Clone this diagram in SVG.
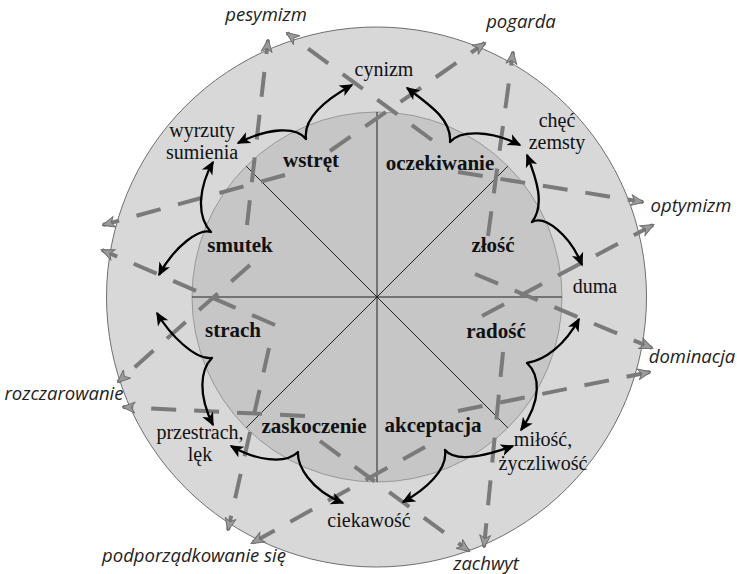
<svg xmlns="http://www.w3.org/2000/svg" width="737" height="574" viewBox="0 0 737 574">
<style>
.emo{font-family:"Liberation Serif",serif;font-weight:bold;font-size:21px;fill:#111;text-anchor:middle}
.dy{font-family:"Liberation Serif",serif;font-size:20px;fill:#111;text-anchor:middle}
.sec{font-family:"Open Sans",sans-serif;font-style:italic;font-size:18.5px;fill:#222;text-anchor:middle}
.div{stroke:#222;stroke-width:1;fill:none}
.dash{stroke:#7a7a7a;stroke-width:4;stroke-dasharray:25 18;fill:none;marker-end:url(#ga)}
.blk{stroke:#000;stroke-width:2.3;fill:none;stroke-linejoin:round;marker-start:url(#ba);marker-end:url(#ba)}
</style>
<defs>
<marker id="ga" markerUnits="userSpaceOnUse" viewBox="-14 -7 16 14" refX="0" refY="0" markerWidth="16" markerHeight="14" orient="auto">
<path d="M1,0 L-12,-5.5 L-8.5,0 L-12,5.5 z" fill="#9a9a9a" stroke="#6a6a6a" stroke-width="0.9"/>
</marker>
<marker id="ba" markerUnits="userSpaceOnUse" viewBox="-15 -8 17 16" refX="0" refY="0" markerWidth="17" markerHeight="16" orient="auto-start-reverse">
<path d="M1.5,0 L-12,-6 L-8.5,0 L-12,6 z" fill="#000"/>
</marker>
</defs>
<g id="wheel">
<circle cx="376.5" cy="297" r="270" fill="#d8d8d8" stroke="#6f6f6f" stroke-width="1"/>
<circle cx="377" cy="297" r="185" fill="#c6c6c6" stroke="#8a8a8a" stroke-width="0.8"/>
<line class="div" x1="377" y1="112" x2="377" y2="482"/>
<line class="div" x1="192" y1="297" x2="562" y2="297"/>
<line class="div" x1="246.2" y1="166.2" x2="507.8" y2="427.8"/>
<line class="div" x1="507.8" y1="166.2" x2="246.2" y2="427.8"/>
</g>
<g id="connectors">
<path class="dash" d="M247,225 L268,40"/>
<path class="dash" d="M432,140 L287,33"/>
<path class="dash" d="M330,151 L485,43"/>
<path class="dash" d="M488,236 L513,52"/>
<path class="dash" d="M458,172 L643,202"/>
<path class="dash" d="M482,316 L653,225"/>
<path class="dash" d="M475,274 L652,348"/>
<path class="dash" d="M458,411 L650,372"/>
<path class="dash" d="M503,352 L484,547"/>
<path class="dash" d="M320,441 L469,551"/>
<path class="dash" d="M425,447 L252,543"/>
<path class="dash" d="M269,348 L228,530"/>
<path class="dash" d="M250,265 L118,382"/>
<path class="dash" d="M305,416 L123,407"/>
<path class="dash" d="M285,175 L103,225"/>
<path class="dash" d="M275,325 L102,250"/>
<path class="blk" d="M352,85 C325,100 303,118 306,139 C296,126 268,128 238,143"/>
<path class="blk" d="M407,88 C430,105 452,120 450,142 C460,130 490,130 520,145"/>
<path class="blk" d="M527,155 C537,180 545,205 532,222 C545,215 570,235 582,265"/>
<path class="blk" d="M579,319 C565,345 545,360 527,363 C540,375 542,400 521,430"/>
<path class="blk" d="M403,502 C425,490 448,470 445,450 C455,462 480,458 513,446"/>
<path class="blk" d="M231,446 C255,460 285,465 298,452 C297,465 310,490 343,503"/>
<path class="blk" d="M157,313 C170,335 195,360 212,358 C200,370 198,395 213,425"/>
<path class="blk" d="M213,162 C200,185 195,215 211,232 C200,228 175,245 159,275"/>
</g>
<g id="wstret"><text class="emo" x="311" y="167">wstręt</text></g>
<g id="oczekiwanie"><text class="emo" x="440" y="170">oczekiwanie</text></g>
<g id="zlosc"><text class="emo" x="493" y="252">złość</text></g>
<g id="radosc"><text class="emo" x="496" y="338">radość</text></g>
<g id="akceptacja"><text class="emo" x="433" y="432">akceptacja</text></g>
<g id="zaskoczenie"><text class="emo" x="314" y="433">zaskoczenie</text></g>
<g id="strach"><text class="emo" x="233" y="337">strach</text></g>
<g id="smutek"><text class="emo" x="240" y="252">smutek</text></g>
<g id="cynizm"><text class="dy" x="384" y="76">cynizm</text></g>
<g id="chec-zemsty"><text class="dy" x="557" y="127">chęć</text><text class="dy" x="557" y="149">zemsty</text></g>
<g id="duma"><text class="dy" x="595" y="293">duma</text></g>
<g id="milosc"><text class="dy" x="543" y="446">miłość,</text><text class="dy" x="543" y="470">życzliwość</text></g>
<g id="ciekawosc"><text class="dy" x="369" y="527">ciekawość</text></g>
<g id="przestrach"><text class="dy" x="200" y="439">przestrach,</text><text class="dy" x="200" y="461">lęk</text></g>
<g id="wyrzuty"><text class="dy" x="202" y="137">wyrzuty</text><text class="dy" x="202" y="159">sumienia</text></g>
<g id="pesymizm"><text class="sec" x="266" y="21">pesymizm</text></g>
<g id="pogarda"><text class="sec" x="521" y="28">pogarda</text></g>
<g id="optymizm"><text class="sec" x="691" y="212">optymizm</text></g>
<g id="dominacja"><text class="sec" x="692" y="363">dominacja</text></g>
<g id="zachwyt"><text class="sec" x="486" y="570">zachwyt</text></g>
<g id="podporzadkowanie"><text class="sec" x="194" y="562">podporządkowanie się</text></g>
<g id="rozczarowanie"><text class="sec" x="64" y="400">rozczarowanie</text></g>
</svg>
